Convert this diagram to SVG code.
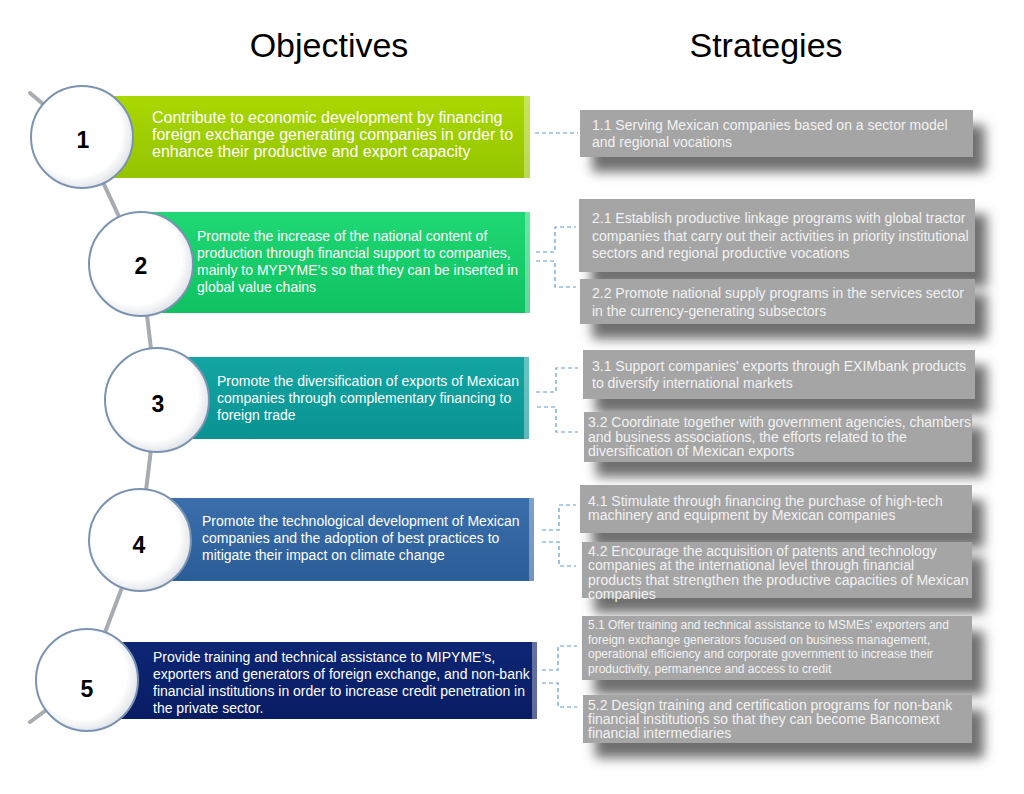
<svg xmlns="http://www.w3.org/2000/svg" width="1024" height="794" viewBox="0 0 1024 794">
<defs>
<style>
.title{font-family:"Liberation Sans",Arial,sans-serif;font-size:34px;fill:#000}
.num{font-family:"Liberation Sans",Arial,sans-serif;font-size:23px;font-weight:bold;fill:#000;text-anchor:middle}
.obj{font-family:"Liberation Sans",Arial,sans-serif;font-size:14px;fill:#fff}
.obj1{font-size:16px}
.st{font-family:"Liberation Sans",Arial,sans-serif;font-size:14px;fill:#f2f2f2}
.st5{font-size:12px}
.sbox{fill:#a5a5a5;filter:url(#sh)}
.circ{fill:url(#cg);stroke:#7b93b3;stroke-width:2}
.conn{fill:none;stroke:#5b9bd5;stroke-width:1.2;stroke-dasharray:4 3}
.edge{fill:#ffffff;opacity:0.35}
</style>
<filter id="sh" x="-10%" y="-30%" width="130%" height="200%">
<feDropShadow dx="12" dy="15" stdDeviation="6" flood-color="#555" flood-opacity="0.85"/>
</filter>
<radialGradient id="cg" cx="0.45" cy="0.45" r="0.55">
<stop offset="0.8" stop-color="#ffffff"/>
<stop offset="1" stop-color="#e4e6ea"/>
</radialGradient>
<linearGradient id="g1" x1="0" y1="0" x2="0" y2="1"><stop offset="0" stop-color="#a9d800"/><stop offset="1" stop-color="#94c400"/></linearGradient>
<linearGradient id="g2" x1="0" y1="0" x2="0" y2="1"><stop offset="0" stop-color="#1fd874"/><stop offset="1" stop-color="#10c262"/></linearGradient>
<linearGradient id="g3" x1="0" y1="0" x2="0" y2="1"><stop offset="0" stop-color="#13a5a3"/><stop offset="1" stop-color="#0a9392"/></linearGradient>
<linearGradient id="g4" x1="0" y1="0" x2="0" y2="1"><stop offset="0" stop-color="#3a6fac"/><stop offset="1" stop-color="#2b5d97"/></linearGradient>
<linearGradient id="g5" x1="0" y1="0" x2="0" y2="1"><stop offset="0" stop-color="#0d2674"/><stop offset="1" stop-color="#081c63"/></linearGradient>
</defs>
<rect width="1024" height="794" fill="#ffffff"/>

<text class="title" x="329" y="57" text-anchor="middle">Objectives</text>
<text class="title" x="766" y="57" text-anchor="middle">Strategies</text>

<!-- timeline -->
<path d="M30,93 L82,137 L141,264 L157,400 L140,540 L87,680 L30,722" fill="none" stroke="#a7abb2" stroke-width="4" stroke-linecap="round"/>

<g id="connectors">
<path class="conn" d="M535,133 H578"/>
<path class="conn" d="M536,252 H555 V227 H576 M536,261 H555 V287 H576"/>
<path class="conn" d="M536,392 H556 V368 H578 M537,407 H556 V432 H578"/>
<path class="conn" d="M542,530 H559 V505 H576 M542,542 H559 V566 H576"/>
<path class="conn" d="M542,670 H558 V646 H577 M542,683 H558 V707 H577"/>
</g>

<g id="obj1">
<rect x="105" y="96" width="425" height="82" fill="url(#g1)"/>
<rect class="edge" x="524" y="96" width="6" height="82"/>
<text class="obj obj1" x="152" y="123">Contribute to economic development by financing</text>
<text class="obj obj1" x="152" y="140">foreign exchange generating companies in order to</text>
<text class="obj obj1" x="152" y="157">enhance their productive and export capacity</text>
<circle class="circ" cx="82" cy="137" r="51"/>
<text class="num" x="83" y="148">1</text>
</g>

<g id="obj2">
<rect x="150" y="212" width="380" height="101" fill="url(#g2)"/>
<rect class="edge" x="525" y="212" width="5" height="101"/>
<text class="obj" x="197" y="241">Promote the increase of the national content of</text>
<text class="obj" x="197" y="258">production through financial support to companies,</text>
<text class="obj" x="197" y="275">mainly to MYPYME’s so that they can be inserted in</text>
<text class="obj" x="197" y="292">global value chains</text>
<circle class="circ" cx="141" cy="264" r="52"/>
<text class="num" x="141" y="274">2</text>
</g>

<g id="obj3">
<rect x="185" y="357" width="344" height="82" fill="url(#g3)"/>
<rect class="edge" x="524" y="357" width="5" height="82"/>
<text class="obj" x="217" y="386">Promote the diversification of exports of Mexican</text>
<text class="obj" x="217" y="403">companies through complementary financing to</text>
<text class="obj" x="217" y="420">foreign trade</text>
<circle class="circ" cx="157" cy="400" r="52"/>
<text class="num" x="158" y="412">3</text>
</g>

<g id="obj4">
<rect x="170" y="498" width="364" height="83" fill="url(#g4)"/>
<rect class="edge" x="529" y="498" width="5" height="83"/>
<text class="obj" x="202" y="526">Promote the technological development of Mexican</text>
<text class="obj" x="202" y="543">companies and the adoption of best practices to</text>
<text class="obj" x="202" y="560">mitigate their impact on climate change</text>
<circle class="circ" cx="140" cy="540" r="51"/>
<text class="num" x="139" y="553">4</text>
</g>

<g id="obj5">
<rect x="115" y="642" width="422" height="77" fill="url(#g5)"/>
<rect class="edge" x="532" y="642" width="5" height="77"/>
<text class="obj" x="153" y="662">Provide training and technical assistance to MIPYME’s,</text>
<text class="obj" x="153" y="679">exporters and generators of foreign exchange, and non-bank</text>
<text class="obj" x="153" y="696">financial institutions in order to increase credit penetration in</text>
<text class="obj" x="153" y="713">the private sector.</text>
<circle class="circ" cx="87" cy="680" r="51"/>
<text class="num" x="87" y="697">5</text>
</g>

<g id="s11">
<rect class="sbox" x="580" y="110" width="393" height="47"/>
<text class="st" x="592" y="130">1.1 Serving Mexican companies based on a sector model</text>
<text class="st" x="592" y="147">and regional vocations</text>
</g>
<g id="s21">
<rect class="sbox" x="579" y="199" width="396" height="73"/>
<text class="st" x="592" y="223">2.1 Establish productive linkage programs with global tractor</text>
<text class="st" x="592" y="241">companies that carry out their activities in priority institutional</text>
<text class="st" x="592" y="258">sectors and regional productive vocations</text>
</g>
<g id="s22">
<rect class="sbox" x="580" y="279" width="395" height="45"/>
<text class="st" x="592" y="298">2.2 Promote national supply programs in the services sector</text>
<text class="st" x="592" y="316">in the currency-generating subsectors</text>
</g>
<g id="s31">
<rect class="sbox" x="583" y="350" width="392" height="49"/>
<text class="st" x="592" y="371">3.1 Support companies' exports through EXIMbank products</text>
<text class="st" x="592" y="388">to diversify international markets</text>
</g>
<g id="s32">
<rect class="sbox" x="584" y="412" width="388" height="50"/>
<text class="st" x="588" y="427">3.2 Coordinate together with government agencies, chambers</text>
<text class="st" x="588" y="442">and business associations, the efforts related to the</text>
<text class="st" x="588" y="456">diversification of Mexican exports</text>
</g>
<g id="s41">
<rect class="sbox" x="580" y="485" width="392" height="48"/>
<text class="st" x="588" y="506">4.1 Stimulate through financing the purchase of high-tech</text>
<text class="st" x="588" y="520">machinery and equipment by Mexican companies</text>
</g>
<g id="s42">
<rect class="sbox" x="582" y="542" width="390" height="56"/>
<text class="st" x="588" y="556">4.2 Encourage the acquisition of patents and technology</text>
<text class="st" x="588" y="570">companies at the international level through financial</text>
<text class="st" x="588" y="585">products that strengthen the productive capacities of Mexican</text>
<text class="st" x="588" y="599">companies</text>
</g>
<g id="s51">
<rect class="sbox" x="582" y="616" width="390" height="64"/>
<text class="st st5" x="588" y="629">5.1 Offer training and technical assistance to MSMEs' exporters and</text>
<text class="st st5" x="588" y="644">foreign exchange generators focused on business management,</text>
<text class="st st5" x="588" y="658">operational efficiency and corporate government to increase their</text>
<text class="st st5" x="588" y="673">productivity, permanence and access to credit</text>
</g>
<g id="s52">
<rect class="sbox" x="583" y="695" width="389" height="48"/>
<text class="st" x="588" y="710">5.2 Design training and certification programs for non-bank</text>
<text class="st" x="588" y="724">financial institutions so that they can become Bancomext</text>
<text class="st" x="588" y="738">financial intermediaries</text>
</g>
</svg>
